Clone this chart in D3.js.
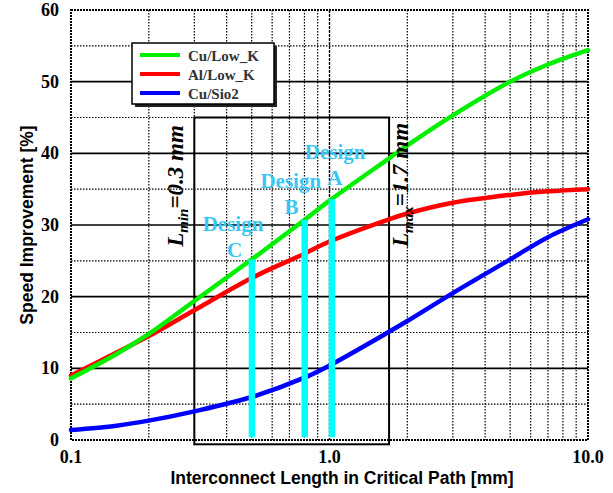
<!DOCTYPE html>
<html>
<head>
<meta charset="utf-8">
<script src="https://cdn.jsdelivr.net/npm/d3@7"></script>
<style>
  html, body { margin: 0; padding: 0; background: #fff; }
  svg { display: block; }
</style>
</head>
<body>
<svg id="chart" width="613" height="493"></svg>
<script>
// Interconnect length samples (mm) and speed improvement (%) per technology
const lengths   = [0.1, 0.15, 0.2, 0.3, 0.5, 0.8, 1.0, 1.7, 2, 3, 5, 7, 10];
const cuLowK    = [8.6, 12.0, 14.8, 19.4, 25.2, 30.7, 33.4, 39.3, 41.1, 45.3, 50.0, 52.4, 54.4];
const alLowK    = [9.0, 12.2, 14.5, 18.1, 22.6, 26.0, 27.7, 30.8, 31.6, 33.1, 34.2, 34.7, 35.0];
const cuSio2    = [1.4, 2.0, 2.7, 4.0, 6.0, 8.7, 10.4, 15.1, 16.6, 20.5, 25.2, 28.3, 30.8];

const seriesNames  = ["Cu/Low_K", "Al/Low_K", "Cu/Sio2"];
const seriesColors = ["#00f000", "#ff0000", "#0000ff"];

// Design points: length and speed improvement on the Cu/Low_K curve
const designNames  = ["A", "B", "C"];
const designLength = [1.02, 0.8, 0.5];
const designValue  = [33.6, 30.7, 25.2];

// Critical-path window
const lMin = 0.3, lMax = 1.7;

const xTicks = [0.1, 1, 10];
const xTickLabels = ["0.1", "1.0", "10.0"];
const yTicks = [0, 10, 20, 30, 40, 50, 60];

const svg = d3.select("#chart");
const m = { left: 71, right: 588, top: 10, bottom: 440 };

const x = d3.scaleLog().domain([0.1, 10]).range([m.left, m.right]);
const y = d3.scaleLinear().domain([0, 60]).range([m.bottom, m.top]);

const serif = "'Liberation Serif', 'Times New Roman', serif";
const sans  = "'Liberation Sans', Arial, sans-serif";

// Grid: dotted minor lines, solid majors
const g = svg.append("g");
const minorY = d3.range(5, 60, 10);
g.selectAll(".gy5").data(minorY).join("line")
  .attr("x1", m.left).attr("x2", m.right)
  .attr("y1", d => y(d)).attr("y2", d => y(d))
  .attr("stroke", "#000").attr("stroke-width", 1.2).attr("stroke-dasharray", "1.5,1.5");
g.selectAll(".gy10").data([10, 20, 30, 40, 50]).join("line")
  .attr("x1", m.left).attr("x2", m.right)
  .attr("y1", d => y(d)).attr("y2", d => y(d))
  .attr("stroke", "#000").attr("stroke-width", 1.6);

const minorX = [];
[0.1, 1].forEach(dec => { for (let k = 2; k <= 9; k++) minorX.push(dec * k); });
g.selectAll(".gx").data(minorX).join("line")
  .attr("x1", d => x(d)).attr("x2", d => x(d))
  .attr("y1", m.top).attr("y2", m.bottom)
  .attr("stroke", "#000").attr("stroke-width", 1.2).attr("stroke-dasharray", "1.5,1.5");
g.append("line")
  .attr("x1", x(1)).attr("x2", x(1)).attr("y1", m.top).attr("y2", m.bottom)
  .attr("stroke", "#000").attr("stroke-width", 1.4).attr("stroke-dasharray", "3,1");

// Plot frame
g.append("rect")
  .attr("x", m.left).attr("y", m.top)
  .attr("width", m.right - m.left).attr("height", m.bottom - m.top)
  .attr("fill", "none").attr("stroke", "#000").attr("stroke-width", 2)
  .attr("stroke-dasharray", "2,1");

// Critical-path window box
svg.append("rect")
  .attr("x", x(lMin)).attr("y", y(45))
  .attr("width", x(lMax) - x(lMin)).attr("height", y(-0.6) - y(45))
  .attr("fill", "none").attr("stroke", "#000").attr("stroke-width", 2);

// Curves
const line = d3.line().curve(d3.curveCatmullRom.alpha(0.5));
[cuSio2, alLowK, cuLowK].forEach((vals, i) => {
  const idx = 2 - i;
  svg.append("path")
    .attr("d", line(lengths.map((l, j) => [x(l), y(vals[j])])))
    .attr("fill", "none")
    .attr("stroke", seriesColors[idx])
    .attr("stroke-width", 4.5)
    .attr("stroke-linecap", "round");
});

// Design bars
svg.selectAll(".bar").data(designLength).join("rect")
  .attr("x", d => x(d) - 3)
  .attr("width", 6.5)
  .attr("y", (d, i) => y(designValue[i]))
  .attr("height", (d, i) => y(0.4) - y(designValue[i]))
  .attr("fill", "#00ffff");

// Design labels
const designColor = "#38c6f4";
const labelPos = [
  { dx: -27, dy: -40, lx: 3, ly: -14 },
  { dx: -44, dy: -32, lx: -13, ly: -6 },
  { dx: -49, dy: -28, lx: -17, ly: -2 }
];
designNames.forEach((name, i) => {
  const px = x(designLength[i]), py = y(designValue[i]);
  const p = labelPos[i];
  svg.append("text").text("Design")
    .attr("x", px + p.dx).attr("y", py + p.dy)
    .attr("font-family", serif).attr("font-weight", "bold").attr("font-size", 21)
    .attr("fill", designColor);
  svg.append("text").text(name)
    .attr("x", px + p.lx).attr("y", py + p.ly)
    .attr("text-anchor", "middle")
    .attr("font-family", serif).attr("font-weight", "bold").attr("font-size", 21)
    .attr("fill", designColor);
});

// Window labels (rotated)
function windowLabel(cx, cy, sub, val) {
  const t = svg.append("text")
    .attr("transform", `translate(${cx},${cy}) rotate(-90)`)
    .attr("text-anchor", "middle")
    .attr("font-family", serif).attr("font-style", "italic").attr("font-weight", "bold")
    .attr("font-size", 23).attr("fill", "#000");
  t.append("tspan").text("L");
  t.append("tspan").text(sub).attr("font-size", 15).attr("dy", 5);
  t.append("tspan").text("=" + val + " mm").attr("dy", -5);
}
windowLabel(183, 186, "min", lMin);
windowLabel(x(lMax) + 19, 185, "max", lMax);

// Axes tick labels
svg.selectAll(".yt").data(yTicks).join("text")
  .attr("x", 59).attr("y", d => y(d) + 6)
  .attr("text-anchor", "end")
  .attr("font-family", serif).attr("font-weight", "bold").attr("font-size", 18)
  .text(d => d);
svg.selectAll(".xt").data(xTicks).join("text")
  .attr("x", d => x(d)).attr("y", 463)
  .attr("text-anchor", "middle")
  .attr("font-family", serif).attr("font-weight", "bold").attr("font-size", 18)
  .text((d, i) => xTickLabels[i]);

// Axis titles
svg.append("text")
  .attr("x", 342).attr("y", 484)
  .attr("text-anchor", "middle")
  .attr("font-family", sans).attr("font-weight", "bold").attr("font-size", 17.5)
  .text("Interconnect Length in Critical Path [mm]");
svg.append("text")
  .attr("transform", "translate(33,225) rotate(-90)")
  .attr("text-anchor", "middle")
  .attr("font-family", sans).attr("font-weight", "bold").attr("font-size", 17.5)
  .text("Speed Improvement [%]");

// Legend
const lg = svg.append("g");
lg.append("rect").attr("x", 135).attr("y", 46).attr("width", 142).attr("height", 61).attr("fill", "#222");
lg.append("rect").attr("x", 132).attr("y", 43).attr("width", 142).attr("height", 61)
  .attr("fill", "#fff").attr("stroke", "#000").attr("stroke-width", 1.5);
seriesNames.forEach((name, i) => {
  const ly = 55 + i * 19;
  lg.append("line").attr("x1", 140).attr("x2", 180).attr("y1", ly).attr("y2", ly)
    .attr("stroke", seriesColors[i]).attr("stroke-width", 4);
  lg.append("text").attr("x", 188).attr("y", ly + 6)
    .attr("font-family", serif).attr("font-weight", "bold").attr("font-size", 15)
    .attr("fill", "#333").text(name);
});
</script>
</body>
</html>
